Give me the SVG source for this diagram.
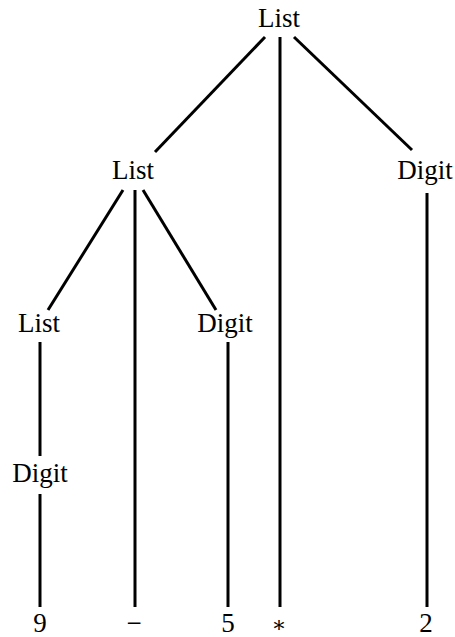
<svg xmlns="http://www.w3.org/2000/svg" width="455" height="637" viewBox="0 0 455 637">
  <style>
    text { font-family: "Liberation Serif", "DejaVu Serif", serif; font-size: 27px; fill: #000; text-anchor: middle; }
    .edge { stroke: #000; stroke-width: 3; fill: none; stroke-linecap: butt; }
    .op { font-family: "DejaVu Serif", serif; font-size: 22px; }
  </style>
  <rect width="455" height="637" fill="#fff"/>
  <g id="edges">
    <line class="edge" x1="265" y1="37" x2="155" y2="152"/>
    <line class="edge" x1="280" y1="37" x2="280" y2="607"/>
    <line class="edge" x1="294" y1="37" x2="412" y2="150"/>
    <line class="edge" x1="123" y1="190" x2="48" y2="310"/>
    <line class="edge" x1="135" y1="190" x2="135" y2="607"/>
    <line class="edge" x1="143" y1="190" x2="216" y2="310"/>
    <line class="edge" x1="427" y1="193" x2="427" y2="607"/>
    <line class="edge" x1="40" y1="342" x2="40" y2="456"/>
    <line class="edge" x1="228" y1="342" x2="228" y2="607"/>
    <line class="edge" x1="40" y1="494" x2="40" y2="607"/>
  </g>
  <g id="n-list-root"><text x="279" y="27">List</text></g>
  <g id="n-list-1"><text x="133" y="179">List</text></g>
  <g id="n-digit-2"><text x="425" y="179">Digit</text></g>
  <g id="n-list-3"><text x="39" y="332">List</text></g>
  <g id="n-digit-5"><text x="225" y="332">Digit</text></g>
  <g id="n-digit-9"><text x="40" y="482">Digit</text></g>
  <g id="leaf-9"><text x="40" y="632">9</text></g>
  <g id="leaf-minus"><text x="134" y="632">−</text></g>
  <g id="leaf-5"><text x="228" y="632">5</text></g>
  <g id="leaf-star"><text class="op" x="279" y="632">∗</text></g>
  <g id="leaf-2"><text x="426" y="632">2</text></g>
</svg>
